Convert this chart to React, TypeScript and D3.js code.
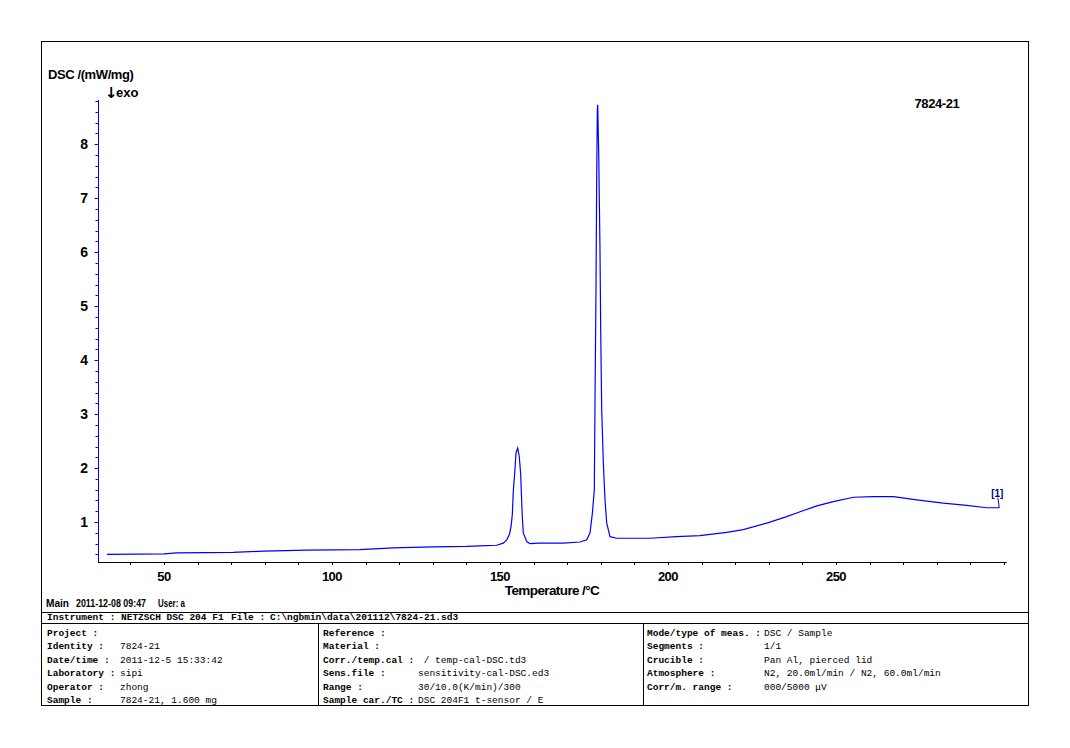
import React from "react";
import * as d3 from "d3";

const temperature = [
  33, 50, 53.8, 70.6, 79.6, 92.5, 108.3, 118.2, 130, 140, 144, 149, 151, 152, 152.8, 153.3, 153.66,
  153.96, 154.38, 154.76, 155.27, 155.74, 156.16, 156.34, 156.64, 156.93, 157.95, 158.93, 161.4,
  168.8, 173.8, 175.8, 176.8, 177.5, 178.07, 178.27, 178.57, 178.78, 178.96, 179.08, 179.38, 179.76,
  179.97, 180.27, 180.74, 181.25, 181.76, 182.74, 184.73, 194.6, 202.6, 209.5, 217.5, 222.4, 229.4,
  235.3, 239.3, 244.3, 249.2, 255.2, 261.1, 267.1, 274.0, 281.9, 288.9, 294.9, 298.6,
];
const dsc = [
  0.4, 0.41, 0.43, 0.44, 0.46, 0.48, 0.49, 0.52, 0.54, 0.55, 0.56, 0.57, 0.61, 0.67, 0.77, 0.92, 1.135,
  1.57, 1.91, 2.28, 2.37, 2.21, 1.88, 1.57, 1.1, 0.8, 0.64, 0.6, 0.61,
  0.61, 0.63, 0.67, 0.8, 1.17, 1.6, 3.2, 5.3, 7.4, 8.6, 8.73, 7.83, 6.04,
  4.56, 3.08, 2.12, 1.41, 0.98, 0.73, 0.7, 0.7, 0.73, 0.75, 0.81, 0.86, 0.98,
  1.1, 1.19, 1.3, 1.38, 1.46, 1.47, 1.47, 1.41, 1.35, 1.31, 1.265, 1.265,
];
const xTickLabels = [50, 100, 150, 200, 250];
const yTickLabels = [1, 2, 3, 4, 5, 6, 7, 8];

const col1Labels = ["Project :", "Identity :", "Date/time :", "Laboratory :", "Operator :", "Sample :"];
const col1Values = ["", "7824-21", "2011-12-5 15:33:42", "sipi", "zhong", "7824-21, 1.600 mg"];
const col2Labels = ["Reference :", "Material :", "Corr./temp.cal :", "Sens.file :", "Range :", "Sample car./TC :"];
const col2Values = ["", "", " / temp-cal-DSC.td3", "sensitivity-cal-DSC.ed3", "30/10.0(K/min)/300", "DSC 204F1 t-sensor / E"];
const col3Labels = ["Mode/type of meas. :", "Segments :", "Crucible :", "Atmosphere :", "Corr/m. range :"];
const col3Values = ["DSC / Sample", "1/1", "Pan Al, pierced lid", "N2, 20.0ml/min / N2, 60.0ml/min", "000/5000 \u03bcV"];

export default function App() {
  const x = d3.scaleLinear().domain([30.36, 300.8]).range([98, 1006.7]);
  const y = d3.scaleLinear().domain([0.26, 8.82]).range([562, 100]);
  const pts = temperature.map((t, i) => [t, dsc[i]] as [number, number]);
  const line = d3
    .line<[number, number]>()
    .x((d) => x(d[0]))
    .y((d) => y(d[1]));
  const xMinor = d3.range(40, 301, 10);
  const yMinor = d3.range(0.4, 8.81, 0.2);
  const last = pts[pts.length - 1];
  const sans = "'Liberation Sans', Arial, sans-serif";
  const mono = "'Liberation Mono', 'DejaVu Sans Mono', monospace";
  const rowY = [636, 649, 663, 676, 690, 703];
  const pre = { whiteSpace: "pre" as const };
  return (
    <svg width={1070} height={748} style={{ position: "absolute", left: 0, top: 0 }}>
      <rect x={0} y={0} width={1070} height={748} fill="#fff" />
      <rect x={41.5} y={41.5} width={987} height={664} fill="none" stroke="#000" strokeWidth={1} />
      {/* titles */}
      <text x={48} y={79} fontFamily={sans} fontWeight="bold" fontSize={13} letterSpacing={-0.4}>DSC /(mW/mg)</text>
      <text x={105} y={98} fontFamily={"'DejaVu Sans', sans-serif"} fontWeight="bold" fontSize={15}>↓</text>
      <text x={116} y={97} fontFamily={sans} fontWeight="bold" fontSize={13}>exo</text>
      <text x={937} y={108} textAnchor="middle" fontFamily={sans} fontWeight="bold" fontSize={13} letterSpacing={-0.4}>7824-21</text>
      {/* y axis */}
      <line x1={98.5} x2={98.5} y1={100} y2={562} stroke="#0000ff" />
      {yMinor.map((v, i) => (
        <line key={"ym" + i} x1={95.5} x2={98.5} y1={Math.round(y(v)) + 0.5} y2={Math.round(y(v)) + 0.5} stroke="#0000ff" />
      ))}
      {yTickLabels.map((v) => (
        <g key={"y" + v}>
          <line x1={94.5} x2={98.5} y1={Math.round(y(v)) + 0.5} y2={Math.round(y(v)) + 0.5} stroke="#0000ff" />
          <text x={88} y={y(v) + 5} textAnchor="end" fontFamily={sans} fontWeight="bold" fontSize={14}>{v}</text>
        </g>
      ))}
      {/* x axis */}
      <line x1={98} x2={1006.7} y1={562.5} y2={562.5} stroke="#000" />
      {xMinor.map((v) => (
        <line key={"xm" + v} x1={Math.round(x(v)) + 0.5} x2={Math.round(x(v)) + 0.5} y1={562} y2={565} stroke="#000" />
      ))}
      {xTickLabels.map((v) => (
        <text key={"x" + v} x={x(v)} y={581} textAnchor="middle" fontFamily={sans} fontWeight="bold" fontSize={13} letterSpacing={-0.5}>{v}</text>
      ))}
      <text x={552} y={595} textAnchor="middle" fontFamily={sans} fontWeight="bold" fontSize={13.5} letterSpacing={-0.6}>Temperature /°C</text>
      {/* curve */}
      <path d={line(pts) || ""} fill="none" stroke="#0000ff" strokeWidth={1.2} />
      <line x1={x(last[0])} y1={y(last[1])} x2={x(last[0]) - 1.5} y2={y(last[1]) - 10} stroke="#0000ff" />
      <text x={x(last[0]) - 2} y={y(last[1]) - 11} textAnchor="middle" fontFamily={sans} fontWeight="bold" fontSize={10} fill="#000080">[1]</text>
      {/* footer */}
      <g fontFamily={sans} fontWeight="bold" fontSize={10}>
        <text x={46} y={607} textLength={23} lengthAdjust="spacingAndGlyphs">Main</text>
        <text x={76} y={607} textLength={70} lengthAdjust="spacingAndGlyphs">2011-12-08 09:47</text>
        <text x={158} y={607} textLength={27} lengthAdjust="spacingAndGlyphs">User: a</text>
      </g>
      <line x1={41} x2={1029} y1={612.5} y2={612.5} stroke="#000" />
      <g fontFamily={mono} fontWeight="bold" fontSize={9.5}>
        <text x={47} y={620}>Instrument :</text>
        <text x={121} y={620}>NETZSCH DSC 204 F1</text>
        <text x={231} y={620}>File :</text>
        <text x={270} y={620}>{"C:\\ngbmin\\data\\201112\\7824-21.sd3"}</text>
      </g>
      <line x1={41} x2={1029} y1={623.5} y2={623.5} stroke="#000" />
      <line x1={318.5} x2={318.5} y1={623} y2={706} stroke="#000" />
      <line x1={643.5} x2={643.5} y1={623} y2={706} stroke="#000" />
      {col1Labels.map((l, i) => (
        <g key={"c1" + i} fontFamily={mono} fontSize={9.5}>
          <text x={47} y={rowY[i]} fontWeight="bold">{l}</text>
          <text x={120} y={rowY[i]} style={pre}>{col1Values[i]}</text>
        </g>
      ))}
      {col2Labels.map((l, i) => (
        <g key={"c2" + i} fontFamily={mono} fontSize={9.5}>
          <text x={323} y={rowY[i]} fontWeight="bold">{l}</text>
          <text x={418} y={rowY[i]} style={pre}>{col2Values[i]}</text>
        </g>
      ))}
      {col3Labels.map((l, i) => (
        <g key={"c3" + i} fontFamily={mono} fontSize={9.5}>
          <text x={647} y={rowY[i]} fontWeight="bold">{l}</text>
          <text x={764} y={rowY[i]} style={pre}>{col3Values[i]}</text>
        </g>
      ))}
    </svg>
  );
}
